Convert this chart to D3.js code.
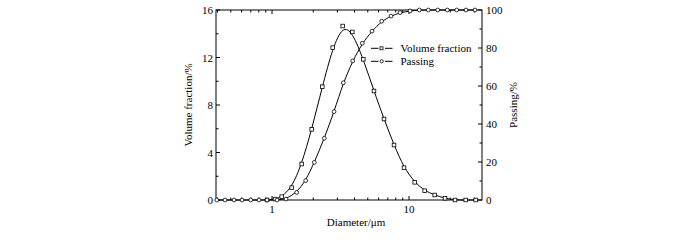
<!DOCTYPE html>
<html><head><meta charset="utf-8">
<script src="https://cdn.jsdelivr.net/npm/d3@7"></script>
<style>body{margin:0;background:#fff}svg{display:block}text{font-family:"Liberation Serif","Times New Roman",serif;fill:#000}</style>
</head><body><svg id="c" width="700" height="240"></svg>
<script>
// Volume fraction (%) vs diameter (μm)
const volDiam = [0.919,1.052,1.177,1.392,1.647,1.949,2.329,2.774,3.281,3.855,4.64,5.55,6.57,7.77,9.19,11.01,13.02,15.40,18.31,21.67,25.94,30.68];
const volVals = [0,0.08,0.28,1.04,3.03,5.95,9.54,12.83,14.65,14.15,11.85,9.18,6.82,4.63,2.72,1.49,0.78,0.42,0.14,0,0,0];
// Passing (%) vs diameter (μm)
const passDiam = [0.395,0.454,0.528,0.604,0.699,0.804,0.919,1.088,1.265,1.514,1.762,2.036,2.409,2.836,3.315,3.882,4.56,5.37,6.32,7.39,8.60,10.17,11.89,13.83,16.20,19.04,22.29,26.06,30.32];
const passVals = [0,0,0,0,0,0,0,0,0.5,4,10.2,19.8,32.5,46.5,61.7,73.2,82.5,88.9,94.1,96.8,98.6,99.5,100,100,100,100,100,100,100];
const leftTicks = [0,4,8,12,16];
const rightTicks = [0,20,40,60,80,100];
const xTickLabels = [1,10];
const legendLabels = ["Volume fraction","Passing"];

const svg = d3.select("#c");
const L=216,R=482,T=10,B=200;
const x = d3.scaleLog().domain([0.39,34.1]).range([L,R]);
const yL = d3.scaleLinear().domain([0,16]).range([B,T]);
const yR = d3.scaleLinear().domain([0,100]).range([B,T]);

// frame
svg.append("rect").attr("x",L).attr("y",T).attr("width",R-L).attr("height",B-T)
  .attr("fill","none").attr("stroke","#000").attr("stroke-width",1);

const fs=11;
// x ticks (log)
const minorX=[];
for(const dec of [0.1,1,10]) for(let k=1;k<10;k++){const v=k*dec; if(v>=0.39&&v<=34.1) minorX.push(v);}
const gX=svg.append("g");
minorX.forEach(v=>{
  const major = xTickLabels.includes(v);
  const len = major?4:2.5;
  gX.append("line").attr("x1",x(v)).attr("x2",x(v)).attr("y1",B).attr("y2",B-len).attr("stroke","#000");
  gX.append("line").attr("x1",x(v)).attr("x2",x(v)).attr("y1",T).attr("y2",T+len).attr("stroke","#000");
});
xTickLabels.forEach(v=>{
  gX.append("text").attr("x",x(v)).attr("y",B+13).attr("text-anchor","middle").attr("font-size",fs).text(v);
});
// left ticks
for(let v=0;v<=16;v+=2){
  const major=v%4===0, len=major?4:2.5;
  svg.append("line").attr("x1",L).attr("x2",L+len).attr("y1",yL(v)).attr("y2",yL(v)).attr("stroke","#000");
}
leftTicks.forEach(v=>svg.append("text").attr("x",L-3).attr("y",yL(v)+4).attr("text-anchor","end").attr("font-size",fs).text(v));
// right ticks
for(let v=0;v<=100;v+=10){
  const major=v%20===0, len=major?4:2.5;
  svg.append("line").attr("x1",R).attr("x2",R-len).attr("y1",yR(v)).attr("y2",yR(v)).attr("stroke","#000");
}
rightTicks.forEach(v=>svg.append("text").attr("x",R+4).attr("y",yR(v)+4).attr("text-anchor","start").attr("font-size",fs).text(v));

// axis titles
svg.append("text").attr("transform",`translate(192,${(T+B)/2}) rotate(-90)`).attr("text-anchor","middle").attr("font-size",fs).text("Volume fraction/%");
svg.append("text").attr("transform",`translate(517,${(T+B)/2}) rotate(-90)`).attr("text-anchor","middle").attr("font-size",fs).text("Passing/%");
svg.append("text").attr("x",356).attr("y",226).attr("text-anchor","middle").attr("font-size",fs).text("Diameter/\u03bcm");

// lines
const volData = volDiam.map((d,i)=>[d,volVals[i]]);
const passData = passDiam.map((d,i)=>[d,passVals[i]]);
const lineV = d3.line().x(d=>x(d[0])).y(d=>yL(d[1])).curve(d3.curveBasis);
const lineP = d3.line().x(d=>x(d[0])).y(d=>yR(d[1])).curve(d3.curveBasis);
svg.append("path").datum(volData).attr("d",lineV).attr("fill","none").attr("stroke","#000").attr("stroke-width",1);
svg.append("path").datum(passData).attr("d",lineP).attr("fill","none").attr("stroke","#000").attr("stroke-width",1);

// markers
svg.selectAll(".sq").data(volData).enter().append("rect")
  .attr("x",d=>x(d[0])-1.8).attr("y",d=>yL(d[1])-1.8).attr("width",3.6).attr("height",3.6)
  .attr("fill","#fff").attr("stroke","#000").attr("stroke-width",0.8);
svg.selectAll(".ci").data(passData).enter().append("circle")
  .attr("cx",d=>x(d[0])).attr("cy",d=>yR(d[1])).attr("r",1.9)
  .attr("fill","#fff").attr("stroke","#000").attr("stroke-width",0.8);

// legend
legendLabels.forEach((lab,i)=>{
  const ly=48.3+i*13;
  svg.append("line").attr("x1",371).attr("x2",378.5).attr("y1",ly).attr("y2",ly).attr("stroke","#000");
  svg.append("line").attr("x1",385).attr("x2",392.5).attr("y1",ly).attr("y2",ly).attr("stroke","#000");
  if(i===0) svg.append("rect").attr("x",380).attr("y",ly-1.5).attr("width",3).attr("height",3).attr("fill","#fff").attr("stroke","#000").attr("stroke-width",0.8);
  else svg.append("circle").attr("cx",381.7).attr("cy",ly).attr("r",1.6).attr("fill","#fff").attr("stroke","#000").attr("stroke-width",0.8);
  svg.append("text").attr("x",400.5).attr("y",ly+3.8).attr("font-size",fs).text(lab);
});
</script></body></html>
